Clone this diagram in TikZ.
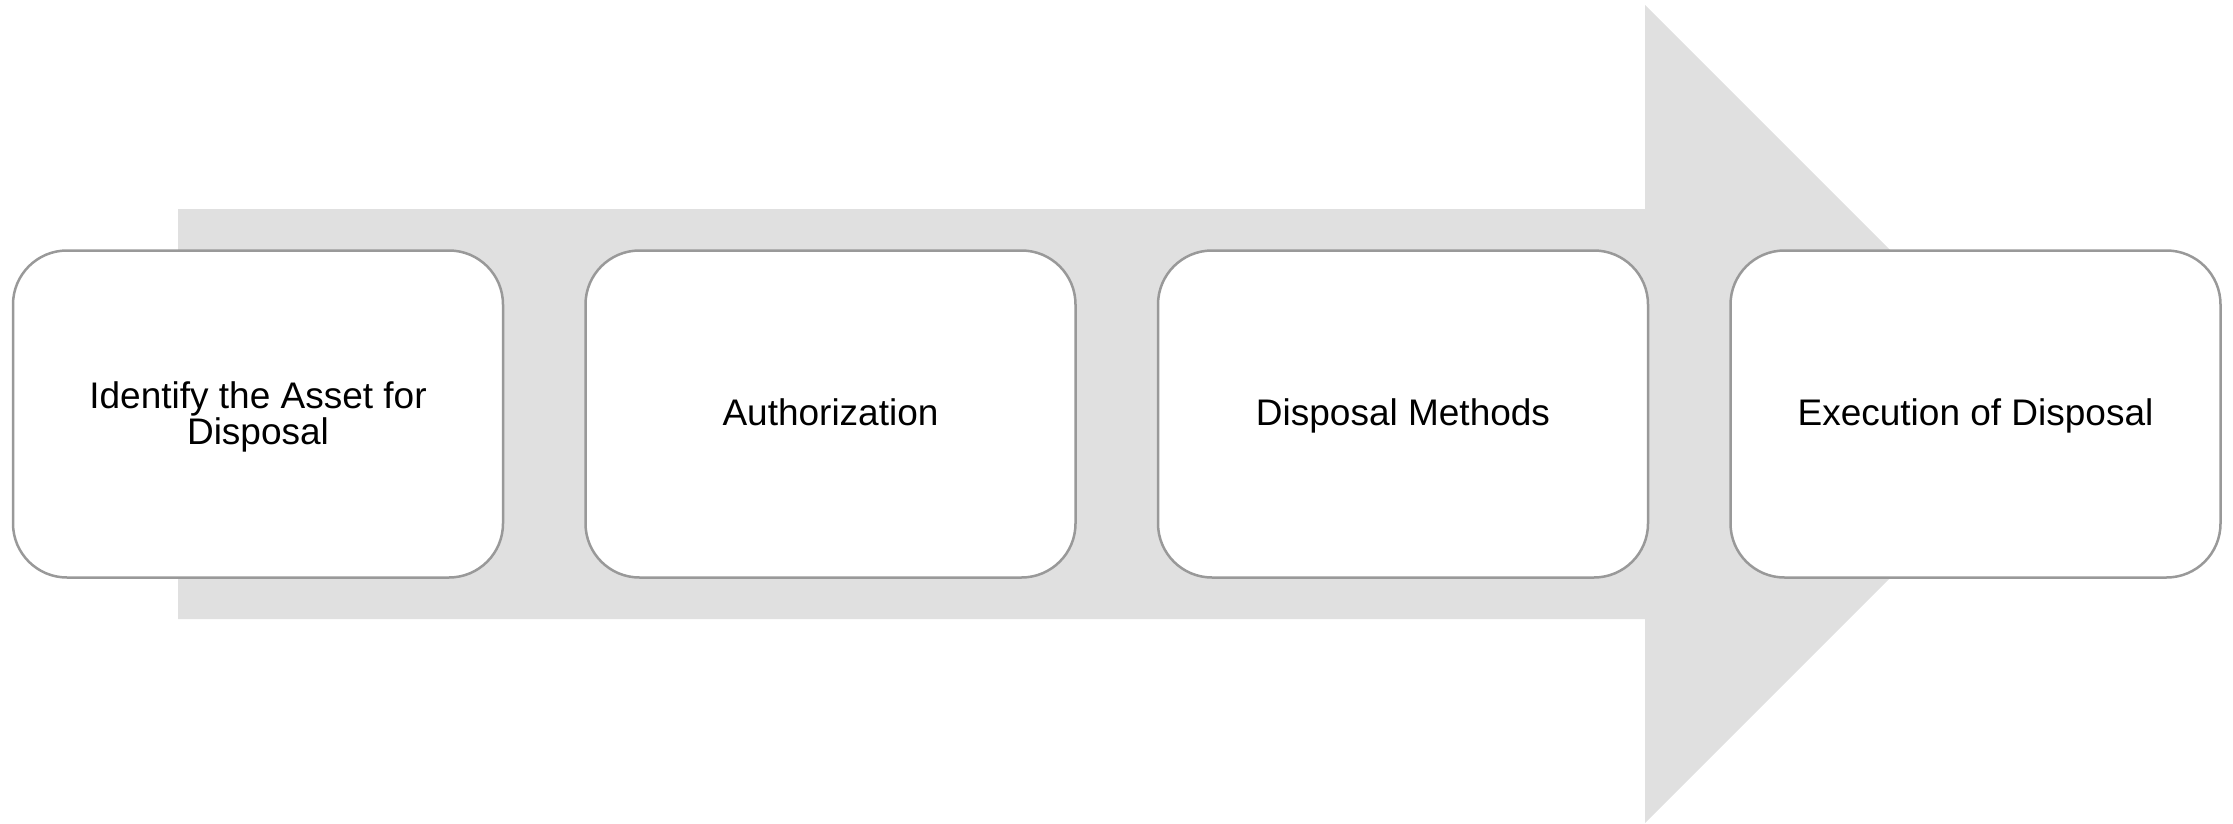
\documentclass[tikz,border=0pt]{standalone}
\usepackage{fontspec}
\setmainfont{Liberation Sans}
\definecolor{arrowgray}{HTML}{E0E0E0}
\definecolor{boxline}{HTML}{999999}
\tikzset{
  stepbox/.style={draw=boxline, line width=2.5pt, fill=white, rounded corners=54pt,
    minimum width=490pt, minimum height=327pt, inner sep=0pt, align=center,
    font=\fontsize{37}{35.6}\selectfont, text height=30pt, text depth=7.4pt},
}
\begin{document}
\begin{tikzpicture}[x=1pt,y=-1pt]
\useasboundingbox (0,0) rectangle (2233,824);
\fill[arrowgray] (178,209) -- (1645,209) -- (1645,5) -- (2054,414) -- (1645,823) -- (1645,619) -- (178,619) -- cycle;
\node[stepbox, text height=70pt, text depth=9.4pt] (s1) at (258,414) {Identify the Asset for\\Disposal};
\node[stepbox] (s2) at (830.5,414) {Authorization};
\node[stepbox] (s3) at (1403,414) {Disposal Methods};
\node[stepbox] (s4) at (1975.5,414) {Execution of Disposal};
\end{tikzpicture}
\end{document}
